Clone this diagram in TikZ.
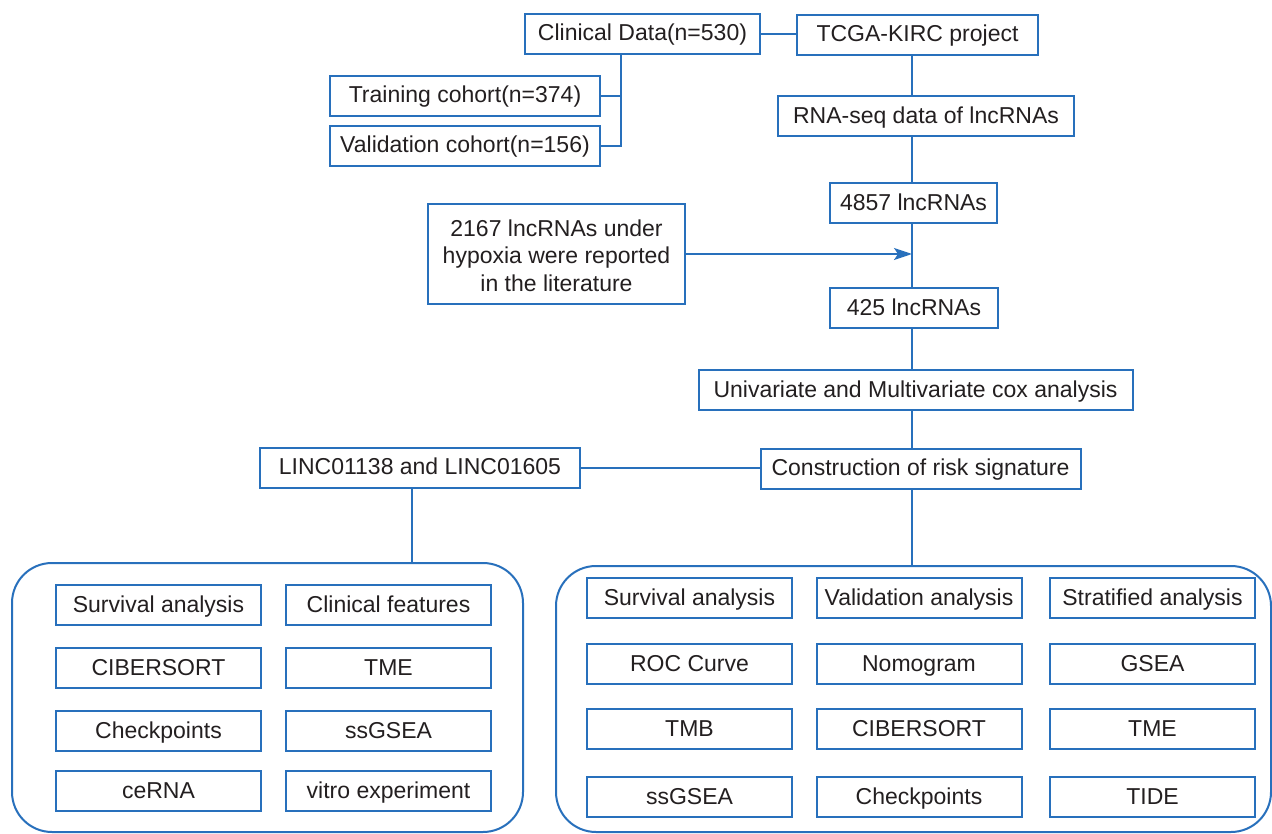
\documentclass[tikz,border=0pt]{standalone}
\usepackage{fontspec}
\setmainfont{Liberation Sans}
\usetikzlibrary{arrows.meta,calc}
\definecolor{lineblue}{RGB}{40,112,188}
\definecolor{ink}{RGB}{35,31,32}
\begin{document}
\begin{tikzpicture}[x=1pt,y=-1pt,
  bxbase/.style={draw=lineblue,line width=2pt,rectangle,inner sep=0pt,text=ink,align=center,
    font=\fontsize{23}{27.6}\selectfont},
  bx/.style={bxbase,text height=17pt,text depth=3pt},
  grp/.style={draw=lineblue,line width=2pt,rectangle,rounded corners=40pt,inner sep=0pt},
  conn/.style={draw=lineblue,line width=2pt},
  arr/.style={conn,-{Stealth[length=18pt,width=12pt,inset=4pt]}}]
\useasboundingbox[fill=white] (0,0) rectangle (1272,834);
% top part
\node[bx,minimum width=235pt,minimum height=40pt] (clin) at (642.5,34) {Clinical Data(n=530)};
\node[bx,minimum width=241pt,minimum height=40pt] (tcga) at (917.5,35) {TCGA-KIRC project};
\node[bx,minimum width=270pt,minimum height=40pt] (train) at (465,96) {Training cohort(n=374)};
\node[bx,minimum width=270pt,minimum height=40pt] (valid) at (465,146) {Validation cohort(n=156)};
\node[bx,minimum width=296pt,minimum height=40pt] (rna) at (926,116.5) {RNA-seq data of lncRNAs};
\node[bx,minimum width=167pt,minimum height=40pt] (n4857) at (913.5,203.5) {4857 lncRNAs};
\node[bxbase,minimum width=257pt,minimum height=100pt] (lit) at (556.5,254) {\rule{0pt}{20pt}2167 lncRNAs under\\hypoxia were reported\\in the literature};
\node[bx,minimum width=168pt,minimum height=40pt] (n425) at (914,308.5) {425 lncRNAs};
\node[bx,minimum width=434pt,minimum height=40pt] (cox) at (915.5,390) {Univariate and Multivariate cox analysis};
\node[bx,minimum width=320pt,minimum height=40pt] (risk) at (920.5,468.5) {Construction of risk signature};
\node[bx,minimum width=320pt,minimum height=40pt] (linc) at (420,467.5) {LINC01138 and LINC01605};
% group boxes
\node[grp,minimum width=511pt,minimum height=269pt] (lgrp) at (267.5,697.5) {};
\node[grp,minimum width=715pt,minimum height=266pt] (rgrp) at (913.5,699) {};
% inner boxes
\tikzset{lb/.style={bx,minimum width=205pt,minimum height=40pt},
         rb/.style={bx,minimum width=205pt,minimum height=40pt}}
\node[lb] (l11) at (158.5,605) {Survival analysis};
\node[lb] (l12) at (388.5,605) {Clinical features};
\node[lb] (l21) at (158.5,668) {CIBERSORT};
\node[lb] (l22) at (388.5,668) {TME};
\node[lb] (l31) at (158.5,731) {Checkpoints};
\node[lb] (l32) at (388.5,731) {ssGSEA};
\node[lb] (l41) at (158.5,791) {ceRNA};
\node[lb] (l42) at (388.5,791) {vitro experiment};
\node[rb] (r11) at (689.5,598) {Survival analysis};
\node[rb] (r12) at (919,598) {Validation analysis};
\node[rb] (r13) at (1152.5,598) {Stratified analysis};
\node[rb] (r21) at (689.5,664) {ROC Curve};
\node[rb] (r22) at (919,664) {Nomogram};
\node[rb] (r23) at (1152.5,664) {GSEA};
\node[rb] (r31) at (689.5,729) {TMB};
\node[rb] (r32) at (919,729) {CIBERSORT};
\node[rb] (r33) at (1152.5,729) {TME};
\node[rb] (r41) at (689.5,797) {ssGSEA};
\node[rb] (r42) at (919,797) {Checkpoints};
\node[rb] (r43) at (1152.5,797) {TIDE};
% connectors
\coordinate (spine) at (912,0);
\coordinate (cj) at ([xshift=-22pt]clin.south);
\draw[conn] (clin.east) -- (clin.east -| tcga.west);
\draw[conn] (cj) |- (valid.east);
\draw[conn] (train.east) -- (train.east -| cj);
\draw[conn] (tcga.south -| spine) -- (rna.north -| spine);
\draw[conn] (rna.south -| spine) -- (n4857.north -| spine);
\draw[conn] (n4857.south -| spine) -- (n425.north -| spine);
\draw[arr] (lit.east) -- (lit.east -| spine);
\draw[conn] (n425.south -| spine) -- (cox.north -| spine);
\draw[conn] (cox.south -| spine) -- (risk.north -| spine);
\draw[conn] (linc.east) -- (linc.east -| risk.west);
\draw[conn] (risk.south -| spine) -- (rgrp.north -| spine);
\draw[conn] ([xshift=-8pt]linc.south) -- ([xshift=-8pt]linc.south |- lgrp.north);
\end{tikzpicture}
\end{document}
